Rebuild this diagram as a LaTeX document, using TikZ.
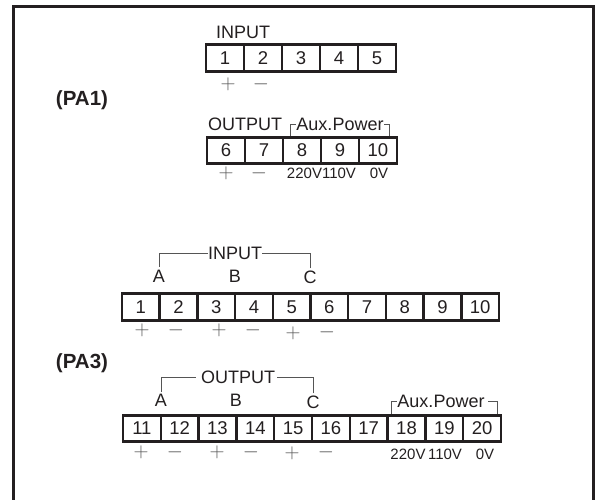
\documentclass[tikz,border=0pt]{standalone}
\usepackage{fontspec}
\setmainfont{Liberation Sans}
\definecolor{ink}{HTML}{231F20}
\definecolor{thin}{HTML}{555555}
\tikzset{
  x=1pt,y=-1pt,
  cell/.style={draw=ink,line width=2.5pt,fill=white,inner sep=0pt,text=ink,font=\fontsize{18.5}{18.5}\selectfont},
  lab/.style={inner sep=0pt,text=ink,font=\fontsize{18}{18}\selectfont},
  volt/.style={inner sep=0pt,text=ink,font=\fontsize{15}{15}\selectfont},
  tag/.style={inner sep=0pt,text=ink,font=\bfseries\fontsize{20.5}{20.5}\selectfont},
  sign/.style={inner sep=0pt,text=thin,font=\fontsize{20}{20}\selectfont},
  wire/.style={draw=thin,line width=0.9pt},
  frameline/.style={draw=ink,line width=3pt}
}
\begin{document}
\begin{tikzpicture}
\useasboundingbox (0,0) rectangle (595,499);
\draw[frameline] (13,505) -- (13,6) -- (593,6) -- (593,505);
% PA1 input
\foreach \k in {1,...,5}
  \node[cell,minimum width=38pt,minimum height=27pt] (a\k) at ({206+38*(\k-0.5)},58) {\k};
% PA1 output
\foreach \k in {6,...,10}
  \node[cell,minimum width=38pt,minimum height=26pt] (b\k) at ({207+38*(\k-5.5)},150.5) {\k};
% PA3 input
\foreach \k in {1,...,10}
  \node[cell,minimum width=37.7pt,minimum height=27pt] (c\k) at ({122+37.7*(\k-0.5)},307) {\k};
% PA3 output
\foreach \k in {11,...,20}
  \node[cell,minimum width=37.8pt,minimum height=26pt] (d\k) at ({123+37.8*(\k-10.5)},428.5) {\k};
% titles
\node[tag] (pa1) at (82,100) {(PA1)};
\node[tag] (pa3) at (82,363) {(PA3)};
\node[lab] (in1) at (243,32) {INPUT};
\node[lab] (out1) at (245,124) {OUTPUT};
\node[lab] (aux1) at (340,124) {Aux.Power};
\node[lab] (in3) at (235,253) {INPUT};
\node[lab] (out3) at (238,377) {OUTPUT};
\node[lab] (aux3) at (441,401) {Aux.Power};
\node[lab] (a3) at (159,276) {A};
\node[lab] (b3) at (235,276) {B};
\node[lab] (c3) at (310,277) {C};
\node[lab] (a4) at (161,400) {A};
\node[lab] (b4) at (236,400) {B};
\node[lab] (c4) at (313,402) {C};
% voltages
\node[volt] (v1) at (304.5,173) {220V};
\node[volt] (v2) at (339,173) {110V};
\node[volt] (v3) at (379,173) {0V};
\node[volt] (v4) at (408,454) {220V};
\node[volt] (v5) at (445,454) {110V};
\node[volt] (v6) at (485,454) {0V};
% signs
\foreach \n/\px/\py/\s in {p1/228/84/+,m1/261/84/-,p2/226/173/+,m2/259/173/-,
    p3/142/330/+,m3/176/330/-,p4/219/330/+,m4/253/330/-,p5/293/333/+,m5/327/332/-,
    p6/141/452/+,m6/175/452/-,p7/217/452/+,m7/251/452/-,p8/292/453/+,m8/326/452/-}
  \node[sign] (\n) at (\px,\py) {$\s$};
% brackets
\coordinate (k1) at (290,136);
\coordinate (k2) at (389,136);
\draw[wire] (k1) |- (aux1.west);
\draw[wire] (k2) |- (aux1.east);
\draw[wire] ([yshift=3pt]a3.north) |- (in3.west);
\draw[wire] ([yshift=2pt]c3.north) |- (in3.east);
\draw[wire] ([yshift=2pt]a4.north) |- ([xshift=-5pt]out3.west);
\draw[wire] ([yshift=2pt]c4.north) |- ([xshift=2pt]out3.east);
\coordinate (k3) at (391,414);
\coordinate (k4) at (497,414);
\draw[wire] (k3) |- (aux3.west);
\draw[wire] (k4) |- ([xshift=3pt]aux3.east);
\end{tikzpicture}
\end{document}
